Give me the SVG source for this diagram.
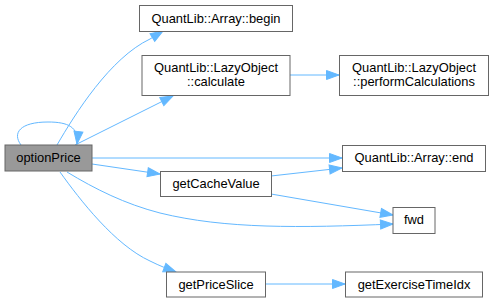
<svg xmlns="http://www.w3.org/2000/svg" width="493" height="303" viewBox="0 0 493 303">
  <style>
    .node rect { fill: #ffffff; stroke: #666666; stroke-width: 1; }
    .node.root rect { fill: #999999; }
    .node text { font-family: "Liberation Sans", Arial, sans-serif; font-size: 12.9px; fill: #000000; text-anchor: middle; }
    .edges path { fill: none; stroke: #63b8ff; stroke-width: 1; marker-end: url(#arrow); }
  </style>
  <defs>
    <marker id="arrow" markerUnits="userSpaceOnUse" markerWidth="14" markerHeight="10" refX="12.5" refY="4.5" orient="auto" overflow="visible">
      <polygon points="0,0 12.5,4.5 0,9" fill="#63b8ff" stroke="#63b8ff" stroke-width="1"/>
    </marker>
  </defs>

  <g class="edges">
    <!-- self call -->
    <path d="M21,145 C12,133 20,122 48,122 C68,122 79,127 77,144"/>
    <!-- optionPrice -> Array::begin -->
    <path d="M57,145 C75,114 110,58 150,39 L163,31"/>
    <!-- optionPrice -> LazyObject::calculate -->
    <path d="M75,145 L173,96"/>
    <!-- calculate -> performCalculations -->
    <path d="M290,75 L339,75"/>
    <!-- optionPrice -> Array::end -->
    <path d="M92,158 L342,158"/>
    <!-- optionPrice -> getCacheValue -->
    <path d="M92,164 L160,174"/>
    <!-- getCacheValue -> Array::end -->
    <path d="M271,176 L342,168"/>
    <!-- getCacheValue -> fwd -->
    <path d="M271,194 L393,215"/>
    <!-- optionPrice -> fwd -->
    <path d="M67,172 C95,189 125,204 160,213 C225,229 300,228 393,224"/>
    <!-- optionPrice -> getPriceSlice -->
    <path d="M60,172 C80,200 115,245 150,261 C160,266 168,269 176,272"/>
    <!-- getPriceSlice -> getExerciseTimeIdx -->
    <path d="M265,284 L345,284"/>
  </g>

  <g id="node-optionPrice" class="node root">
    <rect x="5" y="145" width="87" height="26"/>
    <text x="48.5" y="162">optionPrice</text>
  </g>
  <g id="node-array-begin" class="node">
    <rect x="139.5" y="5.5" width="153" height="26"/>
    <text x="216" y="22.5">QuantLib::Array::begin</text>
  </g>
  <g id="node-lazy-calculate" class="node">
    <rect x="142" y="55.5" width="148" height="40"/>
    <text x="216" y="71.5">QuantLib::LazyObject</text>
    <text x="216" y="85.5">::calculate</text>
  </g>
  <g id="node-lazy-perform" class="node">
    <rect x="339.5" y="55.5" width="149" height="40"/>
    <text x="414" y="71.5">QuantLib::LazyObject</text>
    <text x="414" y="85.5">::performCalculations</text>
  </g>
  <g id="node-array-end" class="node">
    <rect x="342.5" y="145.5" width="143" height="26"/>
    <text x="414" y="162">QuantLib::Array::end</text>
  </g>
  <g id="node-getCacheValue" class="node">
    <rect x="160.5" y="171.5" width="111" height="25"/>
    <text x="216" y="188">getCacheValue</text>
  </g>
  <g id="node-fwd" class="node">
    <rect x="393" y="207.5" width="42" height="26"/>
    <text x="414" y="224">fwd</text>
  </g>
  <g id="node-getPriceSlice" class="node">
    <rect x="166.5" y="272" width="99" height="25"/>
    <text x="216" y="288.5">getPriceSlice</text>
  </g>
  <g id="node-getExerciseTimeIdx" class="node">
    <rect x="345.5" y="272" width="137" height="25"/>
    <text x="414" y="288.5">getExerciseTimeIdx</text>
  </g>
</svg>
